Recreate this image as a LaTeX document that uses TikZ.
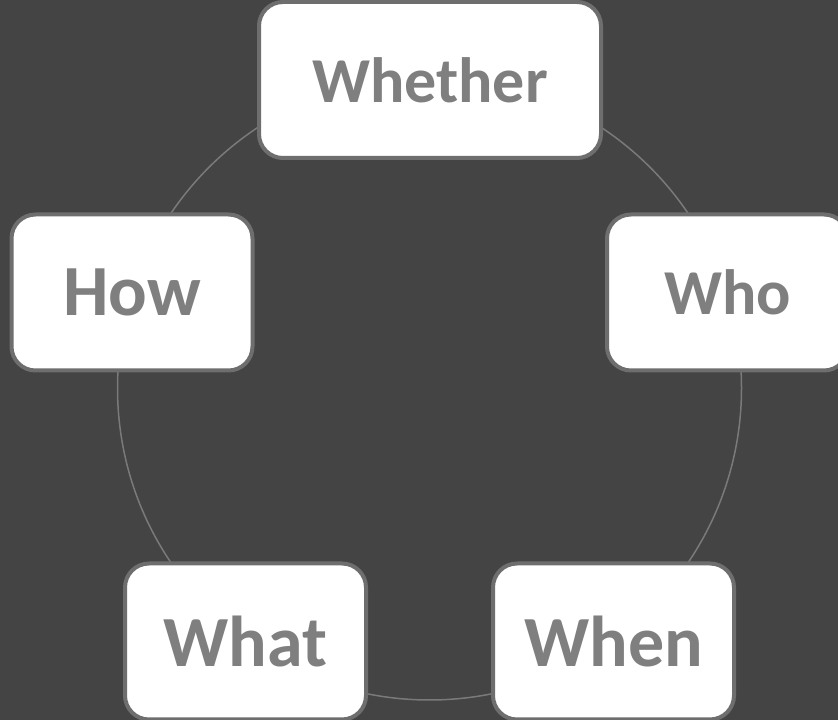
\documentclass[tikz,border=0pt]{standalone}
\usepackage{fontspec}
\setmainfont{Carlito}
\definecolor{bg}{HTML}{444444}
\definecolor{boxline}{HTML}{6E6E6E}
\definecolor{txt}{HTML}{7F7F7F}
\definecolor{ring}{HTML}{7A7A7A}
\tikzset{
  qbox/.style={rectangle, rounded corners=24pt, draw=boxline, line width=4pt, fill=white,
    minimum height=156pt, text=txt, inner sep=0pt},
  bigtext/.style={font=\fontsize{72}{72}\selectfont\bfseries},
  midtext/.style={font=\fontsize{64}{64}\selectfont\bfseries},
  smallbox/.style={qbox, minimum width=241pt, bigtext},
  widebox/.style={qbox, minimum width=342pt, midtext},
  ringline/.style={draw=ring, line width=1.5pt}
}
\begin{document}
\begin{tikzpicture}[x=1pt,y=1pt]
  \fill[bg] (0,0) rectangle (838,720);
  \useasboundingbox (0,0) rectangle (838,720);
  \coordinate (ctr) at (429.5,332);
  \draw[ringline] (ctr) circle[radius=312];
  \node[widebox] (whether) at (430,640) {Whether};
  \node[smallbox, midtext] (who) at (727.5,427.5) {Who};
  \node[smallbox] (how) at (132,427.5) {How};
  \node[smallbox] (what) at (245.5,78.5) {What};
  \node[smallbox] (when) at (613.5,78.5) {When};
\end{tikzpicture}
\end{document}
